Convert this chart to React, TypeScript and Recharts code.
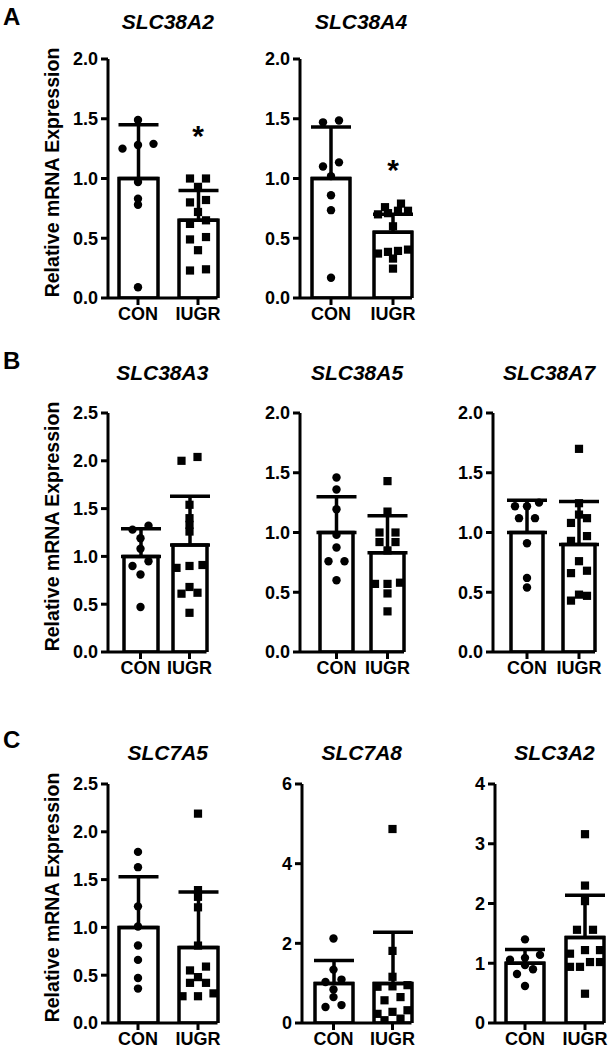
import React from "react";
import { ComposedChart, Bar, ErrorBar, Scatter, XAxis, YAxis, Label } from "recharts";

const groups = ["CON", "IUGR"];

// panel A
const slc38a2Con = [1.49, 1.29, 1.28, 1.25, 0.97, 0.83, 0.78, 0.09];
const slc38a2Iugr = [1.0, 1.0, 0.93, 0.82, 0.8, 0.72, 0.65, 0.62, 0.51, 0.49, 0.4, 0.24, 0.23];
const slc38a2Mean = [1.0, 0.65];
const slc38a2Sd = [0.45, 0.25];
const slc38a2Star = 1.38;

const slc38a4Con = [1.485, 1.47, 1.135, 1.1, 1.02, 0.86, 0.735, 0.17];
const slc38a4Iugr = [0.79, 0.76, 0.73, 0.73, 0.71, 0.7, 0.6, 0.405, 0.394, 0.386, 0.372, 0.33, 0.246];
const slc38a4Mean = [1.0, 0.55];
const slc38a4Sd = [0.43, 0.15];
const slc38a4Star = 1.1;

// panel B
const slc38a3Con = [1.32, 1.28, 1.19, 1.08, 0.95, 0.9, 0.81, 0.47];
const slc38a3Iugr = [2.04, 2.0, 1.54, 1.4, 1.33, 1.26, 0.91, 0.9, 0.88, 0.68, 0.62, 0.61, 0.41];
const slc38a3Mean = [1.0, 1.12];
const slc38a3Sd = [0.29, 0.51];

const slc38a5Con = [1.46, 1.36, 1.195, 0.98, 0.875, 0.76, 0.76, 0.6];
const slc38a5Iugr = [1.43, 1.175, 1.0, 1.0, 0.92, 0.92, 0.85, 0.58, 0.57, 0.57, 0.49, 0.34];
const slc38a5Mean = [1.0, 0.83];
const slc38a5Sd = [0.3, 0.31];

const slc38a7Con = [1.25, 1.22, 1.22, 1.12, 1.12, 0.91, 0.62, 0.54];
const slc38a7Iugr = [1.7, 1.245, 1.15, 1.12, 1.08, 0.97, 0.93, 0.76, 0.68, 0.66, 0.48, 0.47, 0.43];
const slc38a7Mean = [1.0, 0.9];
const slc38a7Sd = [0.27, 0.36];

// panel C
const slc7a5Con = [1.79, 1.63, 1.22, 1.01, 0.81, 0.66, 0.47, 0.36];
const slc7a5Iugr = [2.19, 1.39, 1.32, 1.21, 0.81, 0.59, 0.55, 0.48, 0.42, 0.42, 0.31, 0.28, 0.28];
const slc7a5Mean = [1.0, 0.79];
const slc7a5Sd = [0.53, 0.58];

const slc7a8Con = [2.12, 1.34, 1.09, 1.03, 0.84, 0.65, 0.45, 0.4];
const slc7a8Iugr = [4.87, 1.81, 1.16, 0.95, 0.92, 0.91, 0.65, 0.57, 0.32, 0.28, 0.23, 0.11, 0.07];
const slc7a8Mean = [0.99, 0.99];
const slc7a8Sd = [0.58, 1.29];

const slc3a2Con = [1.4, 1.14, 1.09, 1.06, 0.97, 0.9, 0.82, 0.62];
const slc3a2Iugr = [3.16, 2.3, 2.04, 1.56, 1.56, 1.22, 1.22, 1.16, 1.02, 1.02, 0.94, 0.94, 0.49];
const slc3a2Mean = [1.0, 1.43];
const slc3a2Sd = [0.23, 0.71];

const ticks2 = [0, 0.5, 1.0, 1.5, 2.0];
const ticks25 = [0, 0.5, 1.0, 1.5, 2.0, 2.5];
const ticks6 = [0, 2, 4, 6];
const ticks4 = [0, 1, 2, 3, 4];

const FONT = "'Liberation Sans', Arial, Helvetica, sans-serif";
const PLOT_H = 239;
const YW = 100;
const MT = 12;
const XH = 34;
const MR = 16;

// column-scatter layout: points at similar heights are spread sideways
function swarm(values: number[], group: string, yMax: number, maxSpread: number) {
  const pts = values
    .map((v) => ({ value: v, px: (v / yMax) * PLOT_H }))
    .sort((a, b) => a.px - b.px);
  const rows: { value: number; px: number }[][] = [];
  for (const p of pts) {
    const row = rows[rows.length - 1];
    if (row && p.px - row[0].px < 5) row.push(p);
    else rows.push([p]);
  }
  return rows.flatMap((row) => {
    const n = row.length;
    const s = n > 1 ? Math.min(16, maxSpread / (n - 1)) : 0;
    return row.map((p, i) => ({ group, value: p.value, dx: (i - (n - 1) / 2) * s }));
  });
}

const Dot = (p: any) => <circle cx={p.cx + (p.payload.dx || 0)} cy={p.cy} r={4.2} fill="#000" />;
const Square = (p: any) => (
  <rect x={p.cx + (p.payload.dx || 0) - 4.1} y={p.cy - 4.1} width={8.2} height={8.2} fill="#000" />
);
const Star = (p: any) => (
  <text x={p.cx} y={p.cy + 13} textAnchor="middle" fontSize={30} fontWeight={700} fontFamily={FONT} fill="#000">
    *
  </text>
);

type PanelProps = {
  title: string;
  con: number[];
  iugr: number[];
  mean: number[];
  sd: number[];
  yMax: number;
  ticks: number[];
  decimals: number;
  star?: number;
  axisX: number;
  top: number;
  titleY: number;
  period: number;
  pad: number;
  barSize: number;
  yLabel?: boolean;
};

function Panel(props: PanelProps) {
  const { title, con, iugr, mean, sd, yMax, ticks, decimals, star, axisX, top, titleY, period, pad, barSize, yLabel } = props;
  const overhang = -(period - barSize) / 2;
  const plotW = pad + 2 * period + overhang;
  const width = YW + plotW + MR;
  const height = MT + PLOT_H + XH;
  const barData = groups.map((g, i) => ({ group: g, mean: mean[i], err: [0, sd[i]] }));
  const conPts = swarm(con, "CON", yMax, barSize - 8);
  const iugrPts = swarm(iugr, "IUGR", yMax, barSize - 8);
  const axisStyle = { stroke: "#000", strokeWidth: 3 };
  const tickStyle = { fontSize: 18, fontWeight: 700, fill: "#000", fontFamily: FONT };
  const labelX = YW - 56;
  const labelY = MT + PLOT_H / 2 - 6;

  return (
    <>
      <div
        style={{
          position: "absolute",
          left: axisX + plotW / 2 - 80,
          width: 170,
          top: titleY - 13,
          textAlign: "center",
          fontSize: 21,
          fontWeight: 700,
          fontStyle: "italic",
          lineHeight: "26px",
        }}
      >
        {title}
      </div>
      <div style={{ position: "absolute", left: axisX - YW, top: top - MT }}>
        <ComposedChart width={width} height={height} data={barData} margin={{ top: MT, right: MR, left: 0, bottom: 0 }}>
          <XAxis
            dataKey="group"
            allowDuplicatedCategory={false}
            height={XH}
            padding={{ left: pad, right: overhang }}
            interval={0}
            tick={tickStyle}
            tickLine={axisStyle}
            axisLine={axisStyle}
            tickSize={7}
            tickMargin={2}
          />
          <YAxis
            type="number"
            width={YW}
            domain={[0, yMax]}
            ticks={ticks}
            allowDataOverflow
            tickFormatter={(v: number) => v.toFixed(decimals)}
            tick={tickStyle}
            tickLine={axisStyle}
            axisLine={axisStyle}
            tickSize={7}
            tickMargin={3}
          >
            {yLabel && (
              <Label
                content={() => (
                  <text
                    x={labelX}
                    y={labelY}
                    transform={`rotate(-90 ${labelX} ${labelY})`}
                    textAnchor="middle"
                    dominantBaseline="central"
                    fontSize={19.5}
                    fontWeight={700}
                    fontFamily={FONT}
                    fill="#000"
                  >
                    Relative mRNA Expression
                  </text>
                )}
              />
            )}
          </YAxis>
          <Bar dataKey="mean" barSize={barSize} fill="#fff" stroke="#000" strokeWidth={3.5} isAnimationActive={false}>
            <ErrorBar dataKey="err" direction="y" width={20} stroke="#000" strokeWidth={3.5} isAnimationActive={false} />
          </Bar>
          <Scatter data={conPts} dataKey="value" shape={Dot} isAnimationActive={false} />
          <Scatter data={iugrPts} dataKey="value" shape={Square} isAnimationActive={false} />
          {star != null && (
            <Scatter data={[{ group: "IUGR", value: star }]} dataKey="value" shape={Star} isAnimationActive={false} />
          )}
        </ComposedChart>
      </div>
    </>
  );
}

const letterStyle = (top: number): React.CSSProperties => ({
  position: "absolute",
  left: 3,
  top,
  fontSize: 24,
  fontWeight: 700,
  lineHeight: "26px",
});

export default function App() {
  return (
    <div
      style={{
        position: "absolute",
        left: 0,
        top: 0,
        width: 615,
        height: 1050,
        background: "#fff",
        fontFamily: FONT,
        color: "#000",
        overflow: "hidden",
      }}
    >
      <div style={letterStyle(4)}>A</div>
      <div style={letterStyle(348)}>B</div>
      <div style={letterStyle(727)}>C</div>

      <Panel title="SLC38A2" con={slc38a2Con} iugr={slc38a2Iugr} mean={slc38a2Mean} sd={slc38a2Sd} star={slc38a2Star}
        yMax={2} ticks={ticks2} decimals={1} axisX={108} top={59} titleY={22} period={60} pad={0} barSize={39} yLabel />
      <Panel title="SLC38A4" con={slc38a4Con} iugr={slc38a4Iugr} mean={slc38a4Mean} sd={slc38a4Sd} star={slc38a4Star}
        yMax={2} ticks={ticks2} decimals={1} axisX={300} top={59} titleY={22} period={62} pad={0} barSize={38} />

      <Panel title="SLC38A3" con={slc38a3Con} iugr={slc38a3Iugr} mean={slc38a3Mean} sd={slc38a3Sd}
        yMax={2.5} ticks={ticks25} decimals={1} axisX={108} top={413} titleY={373} period={49} pad={8} barSize={34} yLabel />
      <Panel title="SLC38A5" con={slc38a5Con} iugr={slc38a5Iugr} mean={slc38a5Mean} sd={slc38a5Sd}
        yMax={2} ticks={ticks2} decimals={1} axisX={300} top={413} titleY={373} period={51} pad={11} barSize={33} />
      <Panel title="SLC38A7" con={slc38a7Con} iugr={slc38a7Iugr} mean={slc38a7Mean} sd={slc38a7Sd}
        yMax={2} ticks={ticks2} decimals={1} axisX={493} top={413} titleY={373} period={52} pad={8} barSize={32} />

      <Panel title="SLC7A5" con={slc7a5Con} iugr={slc7a5Iugr} mean={slc7a5Mean} sd={slc7a5Sd}
        yMax={2.5} ticks={ticks25} decimals={1} axisX={108} top={784} titleY={753} period={60} pad={0} barSize={39} yLabel />
      <Panel title="SLC7A8" con={slc7a8Con} iugr={slc7a8Iugr} mean={slc7a8Mean} sd={slc7a8Sd}
        yMax={6} ticks={ticks6} decimals={0} axisX={302} top={784} titleY={753} period={59} pad={2} barSize={38} />
      <Panel title="SLC3A2" con={slc3a2Con} iugr={slc3a2Iugr} mean={slc3a2Mean} sd={slc3a2Sd}
        yMax={4} ticks={ticks4} decimals={0} axisX={495} top={784} titleY={753} period={60} pad={0} barSize={38} />
    </div>
  );
}
